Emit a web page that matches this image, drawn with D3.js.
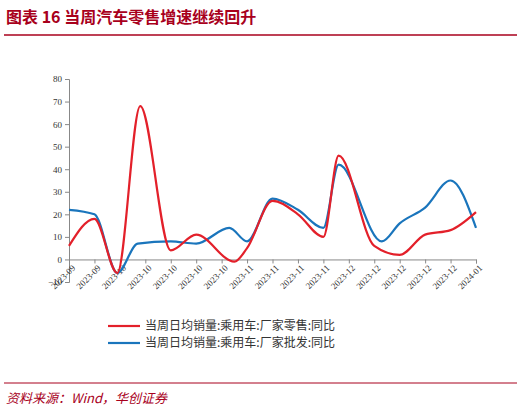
<!DOCTYPE html>
<html><head><meta charset="utf-8">
<script src="https://cdn.jsdelivr.net/npm/d3@7"></script>
<style>body{margin:0;background:#fff}</style>
</head><body>
<svg id="chart" width="521" height="414"></svg>
<script>
const tickLabels = ["2023-09","2023-09","2023-10","2023-10","2023-10","2023-10","2023-10","2023-11","2023-11","2023-11","2023-11","2023-12","2023-12","2023-12","2023-12","2023-12","2024-01"];
const retailX = [0,1,1.9,2.8,4,5,6.5,7,8,9,10,10.6,12,13,14,15,16];
const retailY = [6,18,-6,68,4,11,-1,5,26,20,10,46,6,2,11,13,21];
const wholesaleX = [0,1,1.9,2.7,4,5,6.3,7,8,9,10,10.6,12.3,13,14,15,16];
const wholesaleY = [22,20,-6,7,8,7,14,8,27,22,14,42,8,16,23,35,14];
const yTicks = [-10,0,10,20,30,40,50,60,70,80];

const svg = d3.select("#chart");
const x = d3.scaleLinear().domain([0,16]).range([69,476]);
const y = d3.scaleLinear().domain([-10,80]).range([282,79]);
const serif = "'Liberation Serif','DejaVu Serif',serif";

// title
svg.append("text").attr("x",6).attr("y",23).text("图表 16   当周汽车零售增速继续回升")
  .attr("fill","#a8001c").style("font-size","16px").style("font-weight","bold")
  .style("font-family","'Noto Sans CJK SC',sans-serif");
svg.append("line").attr("x1",4).attr("x2",517).attr("y1",35).attr("y2",35).attr("stroke","#a8001c").attr("stroke-width",1.5);

// y axis
const ya = svg.append("g").attr("transform","translate(69,0)")
  .call(d3.axisLeft(y).tickValues(yTicks).tickSize(4));
ya.selectAll("text").style("font-family",serif).style("font-size","9px").attr("fill","#333");
ya.selectAll("line,path").attr("stroke","#888");

// x axis at 0
const xa = svg.append("g").attr("transform",`translate(0,${y(0)})`)
  .call(d3.axisBottom(x).tickValues(d3.range(17)).tickFormat(i => tickLabels[i]).tickSize(4));
xa.selectAll("line,path").attr("stroke","#888");
xa.selectAll("text").style("font-family",serif).style("font-size","9px").attr("fill","#333")
  .attr("text-anchor","end").attr("dx","-2").attr("dy","4").attr("transform","rotate(-45)");

const line = d3.line().x(d => x(d[0])).y(d => y(d[1])).curve(d3.curveMonotoneX);
svg.append("path").datum(d3.zip(wholesaleX, wholesaleY)).attr("d",line)
  .attr("fill","none").attr("stroke","#1a75bc").attr("stroke-width",2.2);
svg.append("path").datum(d3.zip(retailX, retailY)).attr("d",line)
  .attr("fill","none").attr("stroke","#e3202a").attr("stroke-width",2.2);

// legend
const legend = [["当周日均销量:乘用车:厂家零售:同比","#e3202a"],["当周日均销量:乘用车:厂家批发:同比","#1a75bc"]];
legend.forEach((d,i) => {
  const ly = 326 + i*17;
  svg.append("line").attr("x1",108).attr("x2",140).attr("y1",ly).attr("y2",ly).attr("stroke",d[1]).attr("stroke-width",2.2);
  svg.append("text").attr("x",145).attr("y",ly+4).text(d[0]).style("font-size","12px")
    .style("font-family","'Noto Sans CJK SC',sans-serif").attr("fill","#333");
});

svg.append("line").attr("x1",4).attr("x2",517).attr("y1",383).attr("y2",383).attr("stroke","#a8001c").attr("stroke-width",1);
svg.append("text").attr("x",6).attr("y",403).text("资料来源：Wind，华创证券")
  .attr("fill","#a8001c").style("font-size","13px").style("font-style","italic")
  .style("font-family","'Noto Sans CJK SC',sans-serif");
</script>
</body></html>
